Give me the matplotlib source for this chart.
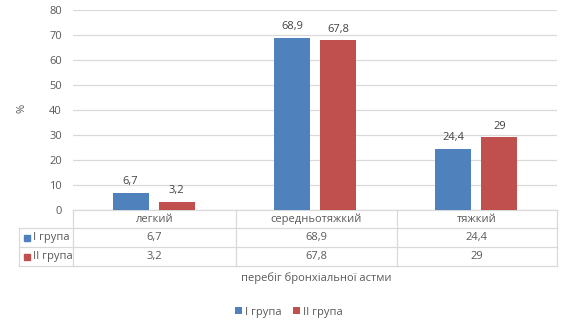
import matplotlib
matplotlib.use("Agg")
import matplotlib.pyplot as plt
from matplotlib.lines import Line2D
from matplotlib.patches import Patch

categories = ["легкий", "середньотяжкий", "тяжкий"]
series_names = ["I група", "II група"]
group1 = [6.7, 68.9, 24.4]
group2 = [3.2, 67.8, 29]
labels1 = ["6,7", "68,9", "24,4"]
labels2 = ["3,2", "67,8", "29"]
yticks = [0, 10, 20, 30, 40, 50, 60, 70, 80]

W, H = 569, 328
BLUE = "#4F81BD"
RED = "#C0504D"
TXT = "#595959"
GRID = "#D9D9D9"
FONT = "Open Sans"
FS = 8

plt.rcParams["font.family"] = [FONT, "DejaVu Sans"]

fig = plt.figure(figsize=(W / 100, H / 100), dpi=100)
fig.patch.set_facecolor("white")

def fx(px):
    return px / W

def fy(py):
    return 1 - py / H

ax = fig.add_axes([fx(73), fy(209.5), fx(557) - fx(73), fy(10) - fy(209.5)])
x = list(range(len(categories)))
bw = 0.224
off = 0.143
b1 = ax.bar([i - off for i in x], group1, width=bw, color=BLUE, zorder=3)
b2 = ax.bar([i + off for i in x], group2, width=bw, color=RED, zorder=3)
for rect, lab in zip(b1, labels1):
    ax.annotate(lab, (rect.get_x() + rect.get_width() / 2, rect.get_height()),
                xytext=(0, 4), textcoords="offset points", ha="center", va="bottom",
                fontsize=FS, color="#404040")
for rect, lab in zip(b2, labels2):
    ax.annotate(lab, (rect.get_x() + rect.get_width() / 2, rect.get_height()),
                xytext=(0, 4), textcoords="offset points", ha="center", va="bottom",
                fontsize=FS, color="#404040")

ax.set_xlim(-0.5, len(categories) - 0.5)
ax.set_ylim(0, 80)
ax.set_yticks(yticks)
ax.set_yticklabels([str(t) for t in yticks], fontsize=FS, color=TXT)
ax.yaxis.grid(True, color=GRID, linewidth=0.9, zorder=0)
ax.set_xticks([])
for s in ["top", "right", "left"]:
    ax.spines[s].set_visible(False)
ax.spines["bottom"].set_color(GRID)
ax.spines["bottom"].set_linewidth(0.9)
ax.tick_params(axis="y", length=0, pad=8)

fig.text(fx(22), fy(108), "%", rotation=90, ha="center", va="center",
         fontsize=FS, color=TXT)

# data table
tf = fig.transFigure
col_edges = [73, 235.5, 396.5, 557]
row_lines = [228, 247, 266]
for yl in row_lines:
    fig.add_artist(Line2D([fx(19), fx(557)], [fy(yl), fy(yl)], transform=tf,
                          color=GRID, linewidth=0.9))
fig.add_artist(Line2D([fx(19), fx(19)], [fy(228), fy(266)], transform=tf,
                      color=GRID, linewidth=0.9))
for xe in col_edges:
    fig.add_artist(Line2D([fx(xe), fx(xe)], [fy(209.5), fy(266)], transform=tf,
                          color=GRID, linewidth=0.9))

row_centers = [219, 237.5, 256.5]
for i, cat in enumerate(categories):
    cx = (col_edges[i] + col_edges[i + 1]) / 2
    fig.text(fx(cx), fy(row_centers[0]), cat, ha="center", va="center",
             fontsize=FS, color=TXT)
    fig.text(fx(cx), fy(row_centers[1]), labels1[i], ha="center", va="center",
             fontsize=FS, color=TXT)
    fig.text(fx(cx), fy(row_centers[2]), labels2[i], ha="center", va="center",
             fontsize=FS, color=TXT)

for name, col, yc in [(series_names[0], BLUE, row_centers[1]),
                      (series_names[1], RED, row_centers[2])]:
    fig.add_artist(plt.Rectangle((fx(24), fy(yc + 3)), fx(6), 6 / H,
                                 transform=tf, color=col))
    fig.text(fx(33), fy(yc), name, ha="left", va="center", fontsize=FS, color=TXT)

fig.text(fx(316), fy(278), "перебіг бронхіальної астми", ha="center", va="center",
         fontsize=FS, color=TXT)

handles = [Patch(facecolor=BLUE, label=series_names[0]),
           Patch(facecolor=RED, label=series_names[1])]
leg = fig.legend(handles=handles, loc="center", bbox_to_anchor=(fx(289), fy(312)),
                 ncol=2, frameon=False, fontsize=FS, handlelength=0.6,
                 handleheight=0.6, handletextpad=0.3, columnspacing=1.0)
for t in leg.get_texts():
    t.set_color(TXT)

fig.savefig("out.png", dpi=100, facecolor="white")
